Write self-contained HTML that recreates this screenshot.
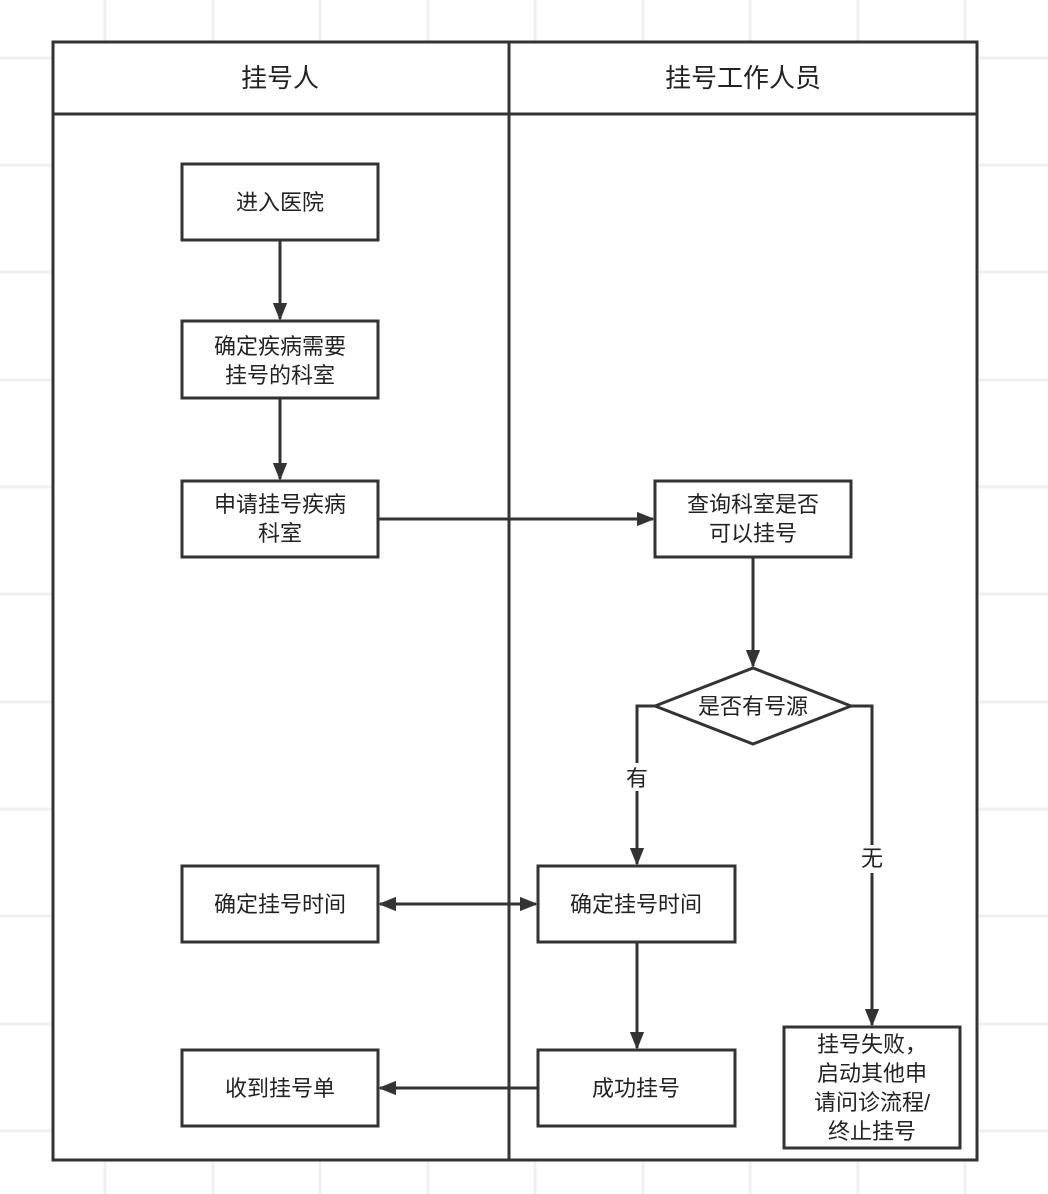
<!DOCTYPE html>
<html><head><meta charset="utf-8"><style>
body{margin:0;background:#fff}
svg{display:block}
text{font-family:"Liberation Sans","Noto Sans CJK SC",sans-serif;fill:#222}
</style></head><body>
<svg width="1048" height="1194" viewBox="0 0 1048 1194" xmlns="http://www.w3.org/2000/svg">
<defs>
<marker id="a" viewBox="0 0 10 10" refX="9" refY="5" markerWidth="6" markerHeight="6" orient="auto-start-reverse" markerUnits="strokeWidth"><path d="M0,1 L10,5 L0,9 z" fill="#333"/></marker>
</defs>
<g stroke="#f0f0f0" stroke-width="3">
<line x1="105" y1="0" x2="105" y2="1194"/><line x1="213" y1="0" x2="213" y2="1194"/><line x1="320" y1="0" x2="320" y2="1194"/><line x1="428" y1="0" x2="428" y2="1194"/><line x1="535" y1="0" x2="535" y2="1194"/><line x1="643" y1="0" x2="643" y2="1194"/><line x1="750" y1="0" x2="750" y2="1194"/><line x1="858" y1="0" x2="858" y2="1194"/><line x1="965" y1="0" x2="965" y2="1194"/>
<line x1="0" y1="58" x2="1048" y2="58"/><line x1="0" y1="165" x2="1048" y2="165"/><line x1="0" y1="272" x2="1048" y2="272"/><line x1="0" y1="380" x2="1048" y2="380"/><line x1="0" y1="487" x2="1048" y2="487"/><line x1="0" y1="594" x2="1048" y2="594"/><line x1="0" y1="702" x2="1048" y2="702"/><line x1="0" y1="809" x2="1048" y2="809"/><line x1="0" y1="916" x2="1048" y2="916"/><line x1="0" y1="1024" x2="1048" y2="1024"/><line x1="0" y1="1131" x2="1048" y2="1131"/>
</g>
<g fill="#fff" stroke="#333" stroke-width="3">
<rect x="53" y="42" width="924" height="1118"/>
<line x1="53" y1="114" x2="977" y2="114"/>
<line x1="509" y1="42" x2="509" y2="1160"/>
<rect x="182" y="164" width="196" height="76"/>
<rect x="182" y="321" width="196" height="77"/>
<rect x="182" y="481" width="196" height="76"/>
<rect x="655" y="481" width="196" height="76"/>
<polygon points="655,706 753,668 851,706 753,744"/>
<rect x="182" y="866" width="196" height="76"/>
<rect x="538" y="866" width="197" height="76"/>
<rect x="538" y="1050" width="197" height="76"/>
<rect x="182" y="1050" width="196" height="76"/>
<rect x="784" y="1027" width="176" height="121"/>
</g>
<g stroke="#333" stroke-width="3" fill="none">
<line x1="280" y1="240" x2="280" y2="319" marker-end="url(#a)"/>
<line x1="280" y1="398" x2="280" y2="479" marker-end="url(#a)"/>
<line x1="378" y1="519" x2="653" y2="519" marker-end="url(#a)"/>
<line x1="753" y1="557" x2="753" y2="666" marker-end="url(#a)"/>
<polyline points="655,706 637,706 637,864" marker-end="url(#a)"/>
<polyline points="851,706 872,706 872,1025" marker-end="url(#a)"/>
<line x1="380" y1="904" x2="536" y2="904" marker-start="url(#a)" marker-end="url(#a)"/>
<line x1="637" y1="942" x2="637" y2="1048" marker-end="url(#a)"/>
<line x1="538" y1="1088" x2="380" y2="1088" marker-end="url(#a)"/>
</g>
<rect x="625" y="763" width="24" height="28" fill="#fff"/>
<rect x="860" y="845" width="24" height="28" fill="#fff"/>
<g font-size="22" text-anchor="middle">
<text x="280" y="87" font-size="26">挂号人</text>
<text x="743" y="87" font-size="26">挂号工作人员</text>
<text x="280" y="210">进入医院</text>
<text x="280" y="354">确定疾病需要</text><text x="280" y="383">挂号的科室</text>
<text x="280" y="512">申请挂号疾病</text><text x="280" y="541">科室</text>
<text x="753" y="512">查询科室是否</text><text x="753" y="541">可以挂号</text>
<text x="753" y="714">是否有号源</text>
<text x="637" y="786">有</text>
<text x="872" y="866">无</text>
<text x="280" y="912">确定挂号时间</text>
<text x="636" y="912">确定挂号时间</text>
<text x="636" y="1096">成功挂号</text>
<text x="280" y="1096">收到挂号单</text>
<text x="872" y="1052">挂号失败，</text><text x="872" y="1081">启动其他申</text><text x="872" y="1110">请问诊流程/</text><text x="872" y="1139">终止挂号</text>
</g>
</svg>
</body></html>
